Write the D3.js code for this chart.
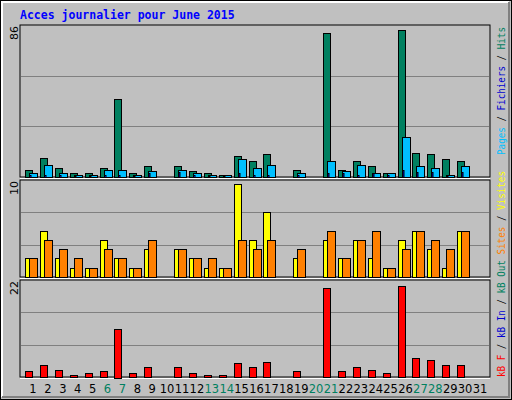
<!DOCTYPE html>
<html>
<head>
<meta charset="utf-8">
<script src="https://cdn.jsdelivr.net/npm/d3@7"></script>
<style>body{margin:0;background:#fff}</style>
</head>
<body>
<script>
// daily values, June 2015
var days = d3.range(1, 32);
var weekend = [6, 7, 13, 14, 20, 21, 27, 28];
var hits =  [4.1,11,5,2.5,2.5,5,44,2.5,6.4,0,6.4,3.6,2.5,1.3,12,9.2,13.2,0,4,0,81.7,4,9.2,6.4,2.5,83.4,13.8,13.2,10.4,9.2,0];
var pages = [2.5,7,2.5,1.3,1.3,4,4,1.3,3.6,0,4,2.5,1.3,1.3,10.4,5.3,7,0,2.5,0,9.2,3.6,7,2.5,2.5,22.8,6.4,5.3,1.3,6.4,0];
var files = [1,1,1,0.5,0.5,1,1,0.5,2,0,3,1,0.5,0.5,2,1,1,0,1,0,2,2,1,2,1,4,3,3,0.5,3,0];
var visits = [2,5,2,1,1,4,2,1,3,0,3,2,1,1,10,4,7,0,2,0,4,2,4,2,1,4,5,3,1,5,0];
var sites =  [2,4,3,2,1,3,2,1,4,0,3,2,2,1,4,3,4,0,3,0,5,2,4,5,1,3,5,4,3,5,0];
var kb = [1.5,2.8,1.7,0.5,1,1.5,11.2,1,2.2,0,2.4,1,0.5,0.5,3.3,2.2,3.5,0,1.5,0,20.6,1.5,2.4,1.7,1,21.1,4.5,4,2.8,2.8,0];

var W = 512, H = 400;
var svg = d3.select("body").append("svg").attr("width", W).attr("height", H)
  .style("font-family", "'DejaVu Sans Mono', monospace");

// frame
svg.append("rect").attr("x", 0.5).attr("y", 0.5).attr("width", W - 1).attr("height", H - 1)
  .attr("fill", "#c0c0c0").attr("stroke", "#000");
svg.append("path").attr("d", "M2,397V2H509").attr("fill", "none").attr("stroke", "#fff").attr("stroke-width", 2);
svg.append("path").attr("d", "M2,397H509V2").attr("fill", "none").attr("stroke", "#808080").attr("stroke-width", 2);

svg.append("text").attr("x", 20).attr("y", 19).text("Acces journalier pour June 2015")
  .attr("fill", "#0000ff").attr("font-weight", "bold").attr("font-size", 11.5);

var x = d3.scaleLinear().domain([1, 31]).range([33, 480]);
var left = 20, right = 490;

var panels = [
  {top: 25, bottom: 177, max: 86, label: "86"},
  {top: 180, bottom: 277, max: 10.45, label: "10"},
  {top: 280, bottom: 377, max: 22.4, label: "22"}
];

panels.forEach(function(p) {
  p.y = d3.scaleLinear().domain([0, p.max]).range([p.bottom, p.top]);
  svg.append("rect").attr("x", left).attr("y", p.top).attr("width", right - left).attr("height", p.bottom - p.top)
    .attr("fill", "#c0c0c0").attr("stroke", "#000");
  svg.append("line").attr("x1", left).attr("x2", right).attr("y1", p.bottom + 1.5).attr("y2", p.bottom + 1.5)
    .attr("stroke", "#fff");
  [1, 2].forEach(function(k) {
    var gy = Math.round(p.top + (p.bottom - p.top) * k / 3) + 0.5;
    svg.append("line").attr("x1", left + 1).attr("x2", right - 1).attr("y1", gy).attr("y2", gy)
      .attr("stroke", "#808080");
  });
  svg.append("text").attr("transform", "translate(18," + (p.top + 1) + ") rotate(-90)")
    .attr("text-anchor", "end").attr("font-size", 11).attr("font-family", "'DejaVu Sans', sans-serif")
    .text(p.label);
});

function bars(data, p, dx, w, color) {
  svg.append("g").selectAll("rect").data(data).enter().filter(function(d) { return d > 0; })
    .append("rect")
    .attr("x", function(d, i) { return 0; })
    .remove();
  svg.append("g").selectAll("rect").data(days.map(function(d, i) { return {d: d, v: data[i]}; }).filter(function(o) { return o.v > 0; }))
    .enter().append("rect")
    .attr("x", function(o) { return Math.round(x(o.d)) + dx + 0.5; })
    .attr("y", function(o) { return Math.round(p.y(o.v)) + 0.5; })
    .attr("width", w)
    .attr("height", function(o) { return Math.round(p.bottom - p.y(o.v)); })
    .attr("fill", color).attr("stroke", "#000");
}

bars(hits, panels[0], -8, 7, "#008060");
bars(pages, panels[0], -4, 8, "#00bfff");
bars(files, panels[0], -4, 1.5, "#0000d0");
bars(visits, panels[1], -8, 7, "#ffff00");
bars(sites, panels[1], -4, 8, "#ff8000");
bars(kb, panels[2], -8, 7, "#ff0000");

svg.append("g").selectAll("text").data(days).enter().append("text")
  .attr("x", function(d) { return x(d); }).attr("y", 393)
  .attr("text-anchor", "middle").attr("font-size", 11.5).attr("font-family", "'DejaVu Sans', sans-serif")
  .attr("fill", function(d) { return weekend.indexOf(d) >= 0 ? "#008060" : "#000"; })
  .text(String);

// right side legends
function legend(y0, len, parts) {
  var t = svg.append("text").attr("transform", "translate(505," + y0 + ") rotate(-90)")
    .attr("font-size", 10).attr("textLength", len).attr("lengthAdjust", "spacingAndGlyphs");
  parts.forEach(function(pt) { t.append("tspan").attr("fill", pt[1]).text(pt[0]); });
}
legend(155, 128, [["Pages", "#00bfff"], [" / ", "#000"], ["Fichiers", "#0000d0"], [" / ", "#000"], ["Hits", "#008060"]]);
legend(377, 206, [["kB F", "#ff0000"], [" / ", "#000"], ["kB In", "#0000d0"], [" / ", "#000"], ["kB Out", "#008060"],
  [" Sites", "#ff8000"], [" / ", "#000"], ["Visites", "#ffff00"]]);
</script>
</body>
</html>
